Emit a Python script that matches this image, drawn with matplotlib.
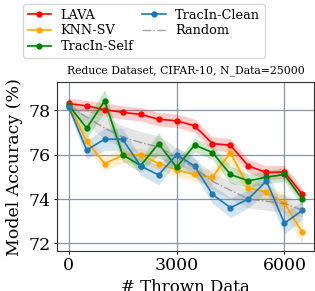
import numpy as np
import matplotlib
matplotlib.use('Agg')
from matplotlib import pyplot as plt

plt.rcParams['font.family'] = 'DejaVu Serif'

# x values: number of thrown data points
thrown = [0, 500, 1000, 1500, 2000, 2500, 3000, 3500, 4000, 4500, 5000, 5500, 6000, 6500]

lava = [78.31, 78.20, 78.03, 77.91, 77.82, 77.60, 77.53, 77.31, 76.50, 76.43, 75.49, 75.20, 75.22, 74.21]
lava_sd = [0.25, 0.25, 0.3, 0.3, 0.3, 0.3, 0.3, 0.3, 0.3, 0.3, 0.3, 0.3, 0.3, 0.3]

knn = [78.23, 76.61, 75.60, 75.97, 76.00, 75.60, 75.32, 75.11, 74.99, 76.10, 74.51, 74.31, 73.81, 72.50]
knn_sd = [0.2, 0.35, 0.3, 0.35, 0.3, 0.3, 0.3, 0.3, 0.35, 0.5, 0.35, 0.35, 0.4, 0.5]

self_ = [78.23, 77.20, 78.43, 76.00, 75.51, 76.50, 75.43, 76.44, 76.10, 75.11, 74.82, 74.99, 75.11, 73.99]
self_sd = [0.2, 0.45, 0.5, 0.3, 0.3, 0.5, 0.3, 0.3, 0.3, 0.4, 0.3, 0.3, 0.3, 0.35]

clean = [78.17, 76.21, 76.70, 76.70, 75.49, 75.09, 76.00, 75.49, 74.21, 73.61, 74.01, 74.82, 72.91, 73.49]
clean_sd = [0.2, 0.4, 0.5, 0.5, 0.4, 0.45, 0.35, 0.4, 0.4, 0.45, 0.4, 0.5, 0.5, 0.4]

rand = [78.2, 77.7, 77.2, 76.8, 76.55, 76.35, 75.9, 75.4, 74.8, 74.4, 74.0, 73.9, 73.8, 73.5]
rand_sd = [0.2, 0.35, 0.5, 0.5, 0.5, 0.5, 0.4, 0.4, 0.4, 0.4, 0.4, 0.4, 0.4, 0.3]

fig = plt.figure(figsize=(3.15, 2.91), dpi=100)
ax = fig.add_axes([0.181, 0.137, 0.816, 0.581])

x = np.array(thrown)
series = [
    ('LAVA', lava, lava_sd, 'red'),
    ('KNN-SV', knn, knn_sd, 'orange'),
    ('TracIn-Self', self_, self_sd, 'green'),
    ('TracIn-Clean', clean, clean_sd, 'tab:blue'),
]
handles = []
for name, m, s, c in series:
    m = np.array(m); s = np.array(s)
    ax.fill_between(x, m - s, m + s, color=c, alpha=0.2, lw=0)
    h, = ax.plot(x, m, '-o', color=c, ms=3.5, lw=1.2, label=name)
    handles.append(h)

m = np.array(rand); s = np.array(rand_sd)
ax.fill_between(x, m - s, m + s, color='gray', alpha=0.2, lw=0)
h, = ax.plot(x, m, '-.', color='gray', lw=1.0, alpha=0.7, label='Random')
handles.append(h)

ax.set_xticks([0, 3000, 6000])
ax.set_yticks([72, 74, 76, 78])
ax.grid(True, color='#8a96a3', lw=0.9)
ax.set_axisbelow(True)
ax.tick_params(labelsize=12.5, length=2, pad=2.5)
ax.set_xlabel('# Thrown Data', fontsize=12, labelpad=3)
ax.set_ylabel('Model Accuracy (%)', fontsize=12.5)
ax.set_title('Reduce Dataset, CIFAR-10, N_Data=25000', fontsize=7.8)
for sp in ax.spines.values():
    sp.set_color('#333333')

fig.legend(handles=handles, ncol=2, fontsize=9.3, loc='upper left',
           bbox_to_anchor=(0.073, 0.986), borderaxespad=0,
           handlelength=1.8, columnspacing=0.7,
           labelspacing=0.22, borderpad=0.35, handletextpad=0.75)

fig.savefig('out.png', dpi=100)
